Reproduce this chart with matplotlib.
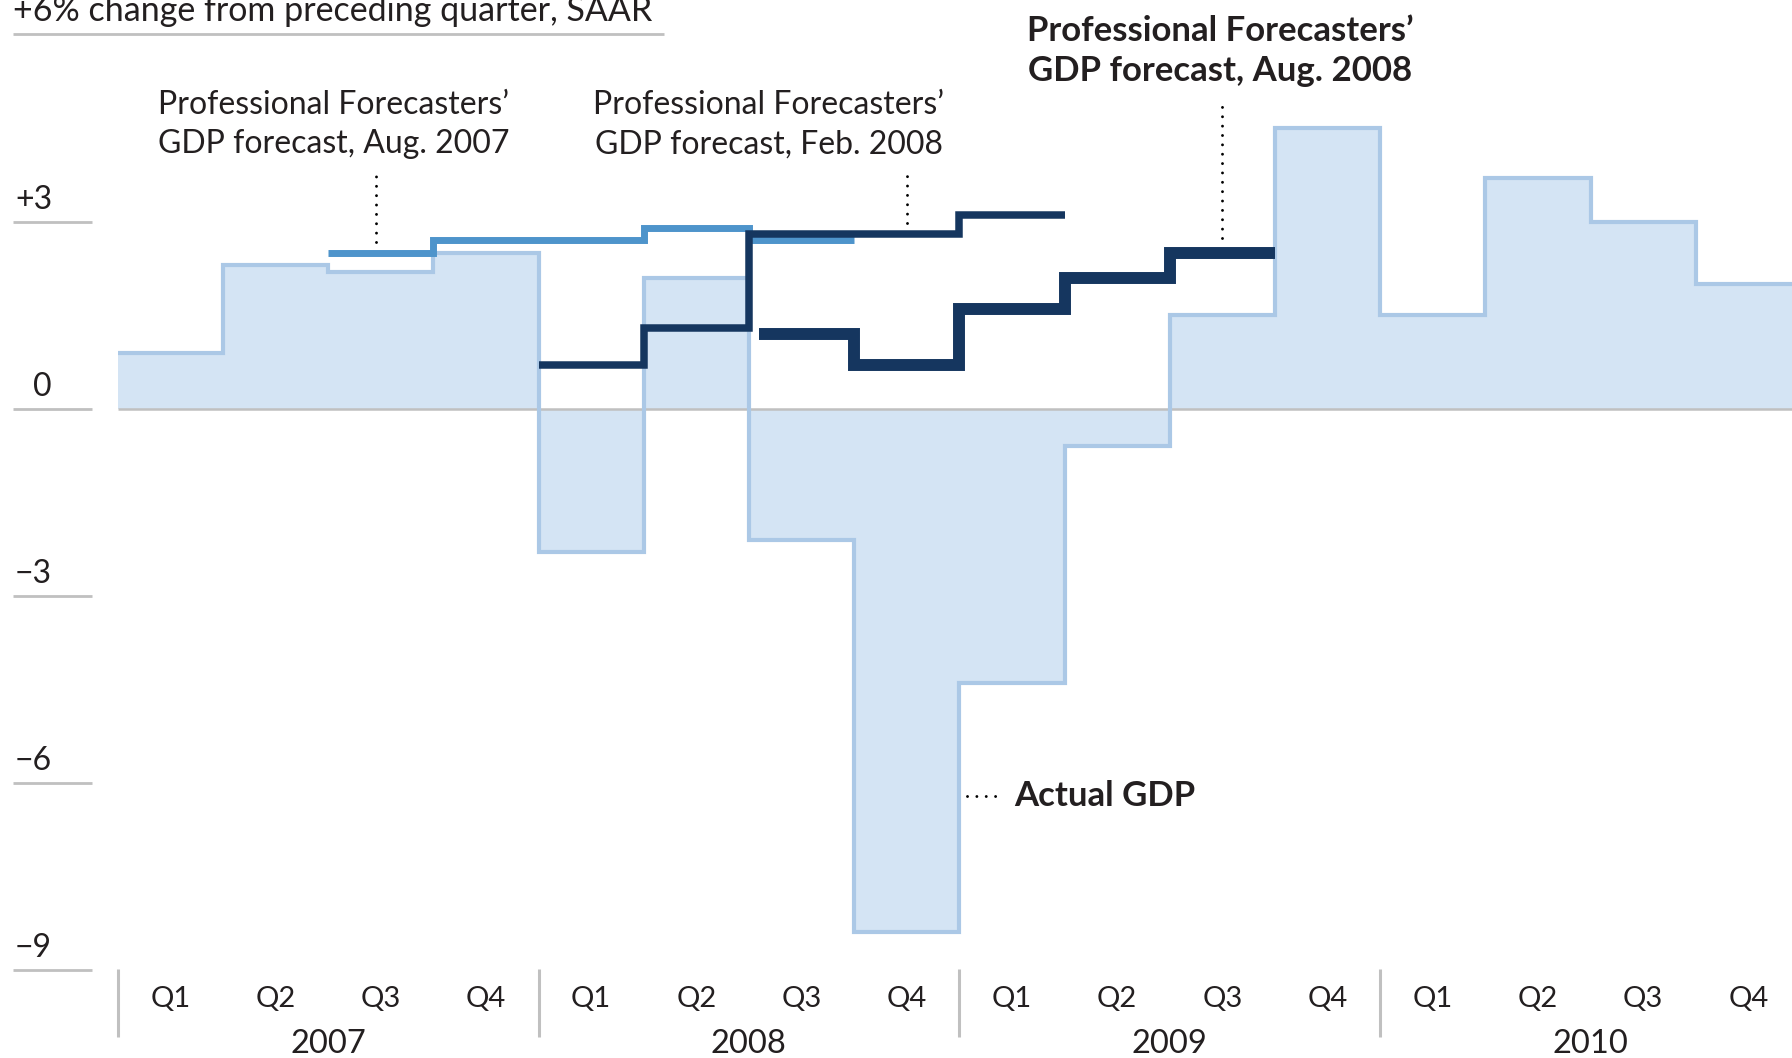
import numpy as np
import matplotlib
matplotlib.use('Agg')
import matplotlib.pyplot as plt

plt.rcParams['font.family'] = ['Lato', 'DejaVu Sans']

# --- data (% change from preceding quarter, SAAR) ---
quarters = ['Q1', 'Q2', 'Q3', 'Q4']
years = ['2007', '2008', '2009', '2010']
actual_gdp = [0.9, 2.3, 2.2, 2.5, -2.3, 2.1, -2.1, -8.4,
              -4.4, -0.6, 1.5, 4.5, 1.5, 3.7, 3.0, 2.0]

# forecasts: index of first quarter (0 = 2007 Q1) and values
fc_aug07_start = 2
fc_aug07 = [2.5, 2.7, 2.7, 2.9, 2.7]
fc_feb08_start = 4
fc_feb08 = [0.7, 1.3, 2.8, 2.8, 3.1]
fc_aug08_start = 6
fc_aug08 = [1.2, 0.7, 1.6, 2.1, 2.5]

yticks = [3, 0, -3, -6, -9]
ytick_labels = ['+3', '0', '\u22123', '\u22126', '\u22129']

# --- colours ---
c_fill = '#d4e4f4'
c_edge = '#abc8e6'
c_aug07 = '#4e94cb'
c_navy = '#15365f'
c_grey = '#c0c0c0'
c_text = '#231f20'

# pixel geometry of the original layout
W, H = 1792, 1058
x0, qpx = 117.7, 105.2      # x pixel of 2007 Q1 start, pixels per quarter
y0, upx = 408.7, 62.33      # y pixel of zero, pixels per unit

fig = plt.figure(figsize=(W / 100, H / 100), dpi=100)
ax = fig.add_axes([0, 0, 1, 1])
ax.set_xlim(-x0 / qpx, (W - x0) / qpx)
ax.set_ylim((y0 - H) / upx, y0 / upx)
ax.axis('off')

n = len(actual_gdp)
edges = np.arange(n + 1)

# actual GDP
ax.stairs(actual_gdp, edges, baseline=0, fill=True, color=c_fill, lw=0, zorder=1)
ax.hlines(0, 0, n, color=c_grey, lw=1.8, zorder=2)
ax.stairs(actual_gdp, edges, baseline=None, color=c_edge, lw=3, zorder=3)

# forecasts
ax.stairs(fc_aug07, np.arange(fc_aug07_start, fc_aug07_start + len(fc_aug07) + 1),
          baseline=None, color=c_aug07, lw=5, zorder=4)
ax.stairs(fc_feb08, np.arange(fc_feb08_start, fc_feb08_start + len(fc_feb08) + 1),
          baseline=None, color=c_navy, lw=5.4, zorder=5)
ax.stairs(fc_aug08, np.arange(fc_aug08_start, fc_aug08_start + len(fc_aug08) + 1) + np.r_[0.1, np.zeros(len(fc_aug08))],
          baseline=None, color=c_navy, lw=8.6, zorder=6)

# y axis: short grey rules with labels above
tick_x0, tick_x1 = -0.995, -0.244
for v, lab in zip(yticks, ytick_labels):
    ax.plot([tick_x0, tick_x1], [v, v], color=c_grey, lw=2, solid_capstyle='butt', clip_on=False)
    ax.text(-0.624, v + 0.2, lab, ha='right', va='baseline', fontsize=23, color=c_text)

# title line (top label) with rule
ax.text(tick_x0, 6.22, '+6% change from preceding quarter, SAAR', ha='left', va='baseline',
        fontsize=24.5, color=c_text)
ax.plot([tick_x0, 5.19], [6.006, 6.006], color=c_grey, lw=2, solid_capstyle='butt', clip_on=False)

# x axis: quarters and years
for i in range(n):
    ax.text(i + 0.5, -9.47, quarters[i % 4], ha='center', va='center', fontsize=21, color=c_text)
for j, yr in enumerate(years):
    ax.text(j * 4 + 2, -10.2, yr, ha='center', va='center', fontsize=23.5, color=c_text)
    ax.plot([j * 4, j * 4], [-8.99, -10.08], color=c_grey, lw=2.2, solid_capstyle='butt')

# annotations
dots = dict(color='black', lw=2.1, linestyle=(0, (0.01, 3.2)), dash_capstyle='round', zorder=7)

ax.plot([2.46, 2.46], [fc_aug07[0] + 0.17, 3.76], **dots)
ax.text(2.05, 4.56, 'Professional Forecasters\u2019\nGDP forecast, Aug. 2007', ha='center', va='center',
        fontsize=23, color=c_text, linespacing=1.4)

ax.plot([7.5, 7.5], [fc_feb08[3] + 0.18, 3.84], **dots)
ax.text(6.19, 4.56, 'Professional Forecasters\u2019\nGDP forecast, Feb. 2008', ha='center', va='center',
        fontsize=23, color=c_text, linespacing=1.4)

ax.plot([10.5, 10.5], [fc_aug08[4] + 0.24, 4.97], **dots)
ax.text(10.48, 5.74, 'Professional Forecasters\u2019\nGDP forecast, Aug. 2008', ha='center', va='center',
        fontsize=25, fontweight='bold', color=c_text, linespacing=1.3)

ax.plot([8.07, 8.4], [-6.21, -6.21], **dots)
ax.text(8.52, -6.21, 'Actual GDP', ha='left', va='center', fontsize=25, fontweight='bold', color=c_text)

fig.savefig('out.png', dpi=100)
